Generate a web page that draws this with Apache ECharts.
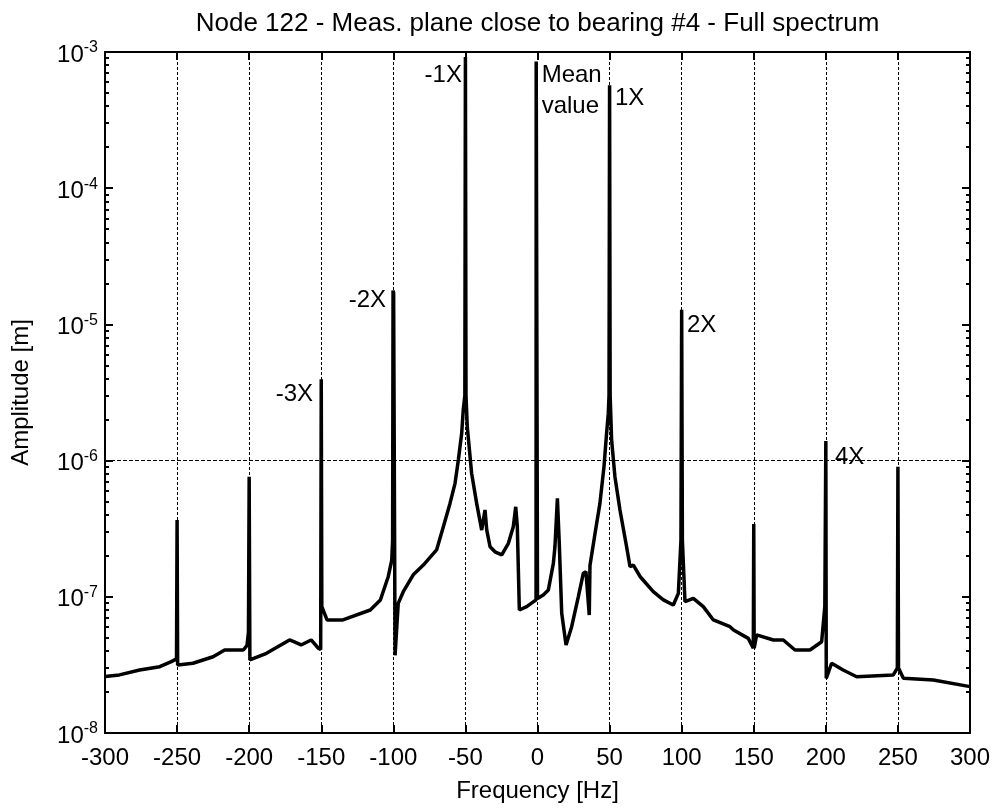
<!DOCTYPE html>
<html>
<head>
<meta charset="utf-8">
<style>
  html, body { margin: 0; padding: 0; background: #fff; }
  #chart { width: 998px; height: 810px; }
</style>
<script src="https://cdn.jsdelivr.net/npm/echarts@6/dist/echarts.min.js"></script>
</head>
<body>
<div id="chart"></div>
<script>
// spectrum
var freq = [
  -300, -290, -276, -262, -254, -250.4, -250, -249.6, -239, -225, -217, -204, -201.5, -200.5, -200, -199.5,
  -188, -172, -169, -164, -157, -152, -150.4, -150, -149.6, -146, -135, -116, -109, -103.5, -101.1, -100.5,
  -100.2, -99.8, -98.8, -96.6, -93.1, -86.2, -79.2, -70, -65.3, -60.7, -57.2, -54.9, -52.6, -51.5, -50.4, -50,
  -49.6, -48.7, -45.7, -42.2, -38.7, -36.4, -35.2, -32.9, -29.5, -24.8, -20.2, -16.8, -15.1, -14, -12.6, -7.5,
  -1.0, -0.9, -0.1, 0, 4.0, 7.5, 11, 12.1, 13.8, 15.1, 16.8, 19.8, 23.7, 28.3, 31.8, 33.6,
  35.9, 36.4, 39.9, 43.3, 46.1, 47.9, 49.1, 49.6, 50, 50.4, 51.4, 53.7, 57.2, 61.8, 64.2, 66.5,
  71.1, 80.3, 87.3, 94.2, 97.7, 99.5, 100, 100.5, 102.3, 108.1, 115, 122, 133.5, 136, 146.2, 149.7,
  150, 150.3, 152, 163.6, 170.5, 178.6, 189, 197.1, 199.3, 200, 200.3, 204, 212, 221.4, 246.8, 249.6,
  250, 250.4, 253.8, 274.6, 300
];
var amp = [
  2.60e-8, 2.67e-8, 2.90e-8, 3.07e-8, 3.34e-8, 3.5e-8, 3.66e-7, 3.16e-8, 3.25e-8, 3.63e-8, 4.07e-8, 4.07e-8, 4.4e-8, 5.5e-8, 7.6e-7, 3.44e-8,
  3.85e-8, 4.82e-8, 4.68e-8, 4.43e-8, 4.82e-8, 4.19e-8, 4.1e-8, 3.95e-6, 8.47e-8, 6.76e-8, 6.76e-8, 8.0e-8, 9.48e-8, 1.41e-7, 1.86e-7, 2.6e-7,
  1.77e-5, 1.7e-5, 3.72e-8, 8.95e-8, 1.09e-7, 1.45e-7, 1.71e-7, 2.21e-7, 3.27e-7, 4.85e-7, 6.81e-7, 1.01e-6, 1.58e-6, 2.36e-6, 3.0e-6, 9.2e-4,
  3.0e-6, 1.77e-6, 8.07e-7, 4.85e-7, 3.09e-7, 4.34e-7, 3.09e-7, 2.33e-7, 2.14e-7, 2.03e-7, 2.47e-7, 3.27e-7, 4.58e-7, 3.27e-7, 8.0e-8, 8.47e-8,
  9.5e-8, 8.5e-4, 8.5e-4, 9.7e-8, 1.03e-7, 1.12e-7, 1.76e-7, 2.33e-7, 5.28e-7, 2.47e-7, 7.57e-8, 4.43e-8, 6.03e-8, 1.0e-7, 1.49e-7, 1.53e-7,
  7.35e-8, 1.7e-7, 2.92e-7, 4.85e-7, 9.0e-7, 1.58e-6, 2.22e-6, 3.0e-6, 5.7e-4, 3.0e-6, 1.42e-6, 7.62e-7, 4.34e-7, 2.33e-7, 1.66e-7, 1.71e-7,
  1.41e-7, 1.09e-7, 9.5e-8, 8.71e-8, 1.06e-7, 2.6e-7, 1.28e-5, 2.6e-7, 9.2e-8, 9.75e-8, 8.47e-8, 6.76e-8, 6.03e-8, 5.7e-8, 4.95e-8, 4.19e-8,
  3.43e-7, 4.19e-8, 5.25e-8, 4.82e-8, 4.82e-8, 4.07e-8, 4.07e-8, 4.68e-8, 8.5e-8, 1.39e-6, 2.52e-8, 3.25e-8, 2.9e-8, 2.59e-8, 2.67e-8, 3.0e-8,
  9.0e-7, 3.0e-8, 2.52e-8, 2.45e-8, 2.19e-8
];

// peak annotations
var peakNames = ['-3X', '-2X', '-1X', 'Mean\nvalue', '1X', '2X', '4X'];
var peakNameFreq = [-155.7, -105.1, -52.4, 2.9, 53.7, 103.7, 206.3];
var peakNameAmp = [3.08e-6, 1.51e-5, 6.78e-4, 5.18e-4, 4.59e-4, 9.9e-6, 1.06e-6];

var yDecades = [-8, -7, -6, -5, -4, -3];
var yGridAt = 1e-6; // only horizontal grid line in the original

var font = "'Liberation Sans', Arial, sans-serif";

var minorTicks = [];
for (var d = 0; d < yDecades.length - 1; d++) {
  for (var k = 2; k <= 9; k++) minorTicks.push(k * Math.pow(10, yDecades[d]));
}

var chart = echarts.init(document.getElementById('chart'));

var axisBlack = { color: '#000', width: 2 };

function minorAxis(pos) {
  return {
    type: 'log', logBase: 10, min: 1e-8, max: 1e-3, position: pos,
    axisLine: { show: false, onZero: false },
    axisTick: { show: true, inside: true, length: 4, customValues: minorTicks, lineStyle: axisBlack },
    axisLabel: { show: false },
    splitLine: { show: false }
  };
}

chart.setOption({
  animation: false,
  textStyle: { fontFamily: font },
  grid: { left: 105, right: 28, top: 52, bottom: 77 },
  xAxis: [
    {
      type: 'value', min: -300, max: 300, interval: 50, position: 'bottom',
      axisLine: { onZero: false, lineStyle: axisBlack },
      axisTick: { inside: true, length: 8, lineStyle: axisBlack },
      axisLabel: { color: '#000', fontSize: 24, fontFamily: font, margin: 13 },
      splitLine: { show: true, lineStyle: { color: '#000', width: 1, type: [3, 2] } },
      name: 'Frequency [Hz]', nameLocation: 'middle', nameGap: 46,
      nameTextStyle: { color: '#000', fontSize: 24, fontFamily: font }
    },
    {
      type: 'value', min: -300, max: 300, interval: 50, position: 'top',
      axisLine: { onZero: false, lineStyle: axisBlack },
      axisTick: { inside: true, length: 8, lineStyle: axisBlack },
      axisLabel: { show: false },
      splitLine: { show: false },
      name: 'Node 122 - Meas. plane close to bearing #4 - Full spectrum',
      nameLocation: 'middle', nameGap: 15,
      nameTextStyle: { color: '#000', fontSize: 26, fontFamily: font }
    }
  ],
  yAxis: [
    {
      type: 'log', logBase: 10, min: 1e-8, max: 1e-3, position: 'left',
      axisLine: { show: true, onZero: false, lineStyle: axisBlack },
      axisTick: { show: true, inside: true, length: 8, lineStyle: axisBlack },
      axisLabel: {
        margin: 7,
        formatter: function (v) {
          var e = Math.round(Math.log10(v));
          return yDecades.indexOf(e) >= 0 ? '{b|10}{s|' + e + '}' : '';
        },
        rich: {
          b: { fontSize: 24, lineHeight: 24, padding: [11, 0, 5, 0], color: '#000', fontFamily: font },
          s: { fontSize: 16, lineHeight: 16, verticalAlign: 'top', color: '#000', fontFamily: font }
        }
      },
      splitLine: { show: false },
      name: 'Amplitude [m]', nameLocation: 'middle', nameGap: 72,
      nameTextStyle: { color: '#000', fontSize: 24, fontFamily: font }
    },
    {
      type: 'log', logBase: 10, min: 1e-8, max: 1e-3, position: 'right',
      axisLine: { show: true, onZero: false, lineStyle: axisBlack },
      axisTick: { show: true, inside: true, length: 8, lineStyle: axisBlack },
      axisLabel: { show: false },
      splitLine: { show: false }
    },
    minorAxis('left'),
    minorAxis('right')
  ],
  series: [
    {
      type: 'line',
      data: freq.map(function (f, i) { return [f, amp[i]]; }),
      showSymbol: false,
      symbol: 'none',
      lineStyle: { color: '#000', width: 3.5 },
      itemStyle: { color: '#000' },
      markLine: {
        silent: true, symbol: ['none', 'none'],
        label: { show: false },
        lineStyle: { color: '#000', width: 1, type: [4, 2] },
        data: [[{ coord: [-300, yGridAt] }, { coord: [300, yGridAt] }]]
      }
    },
    {
      type: 'scatter',
      symbolSize: 0,
      silent: true,
      itemStyle: { color: '#000', opacity: 1 },
      data: peakNames.map(function (t, i) {
        return {
          name: t,
          value: [peakNameFreq[i], peakNameAmp[i]],
          label: { position: peakNameFreq[i] < 0 ? 'left' : 'right' }
        };
      }),
      label: {
        show: true, formatter: '{b}', distance: 0,
        color: '#000', fontSize: 24, lineHeight: 31, fontFamily: font
      }
    }
  ]
});
</script>
</body>
</html>
